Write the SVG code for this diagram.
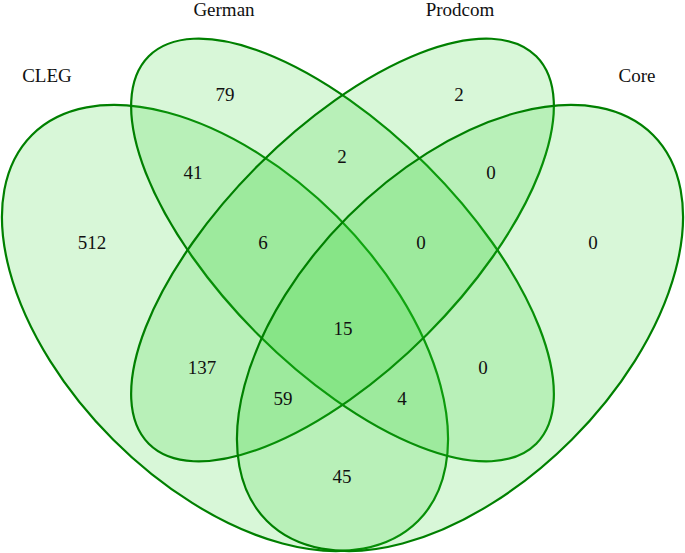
<svg xmlns="http://www.w3.org/2000/svg" width="685" height="553" viewBox="0 0 685 553">
<style>
.set{fill:rgb(40,210,40);fill-opacity:0.18;stroke:#008000;stroke-width:2.2}
.lbl{font-family:"Liberation Serif","Times New Roman",serif;font-size:19px;fill:#111;text-anchor:middle}
.num{font-family:"Liberation Serif","Times New Roman",serif;font-size:19px;fill:#111;text-anchor:middle}
</style>
<rect width="685" height="553" fill="#ffffff"/>
<g id="CLEG">
<ellipse class="set" cx="225" cy="328" rx="273" ry="158" transform="rotate(45 225 328)"/>
<text class="lbl" x="47" y="82">CLEG</text>
</g>
<g id="German">
<ellipse class="set" cx="342.5" cy="250" rx="274" ry="119.5" transform="rotate(45 342.5 250)"/>
<text class="lbl" x="224" y="16">German</text>
</g>
<g id="Prodcom">
<ellipse class="set" cx="342.5" cy="250" rx="274" ry="119.5" transform="rotate(-45 342.5 250)"/>
<text class="lbl" x="460" y="16">Prodcom</text>
</g>
<g id="Core">
<ellipse class="set" cx="460" cy="328" rx="273" ry="158" transform="rotate(-45 460 328)"/>
<text class="lbl" x="637" y="82">Core</text>
</g>
<g id="counts">
<text class="num" x="225" y="101">79</text>
<text class="num" x="459" y="101">2</text>
<text class="num" x="193" y="179">41</text>
<text class="num" x="342" y="163">2</text>
<text class="num" x="491" y="179">0</text>
<text class="num" x="92" y="249">512</text>
<text class="num" x="263" y="249">6</text>
<text class="num" x="421" y="249">0</text>
<text class="num" x="593" y="249">0</text>
<text class="num" x="343" y="335">15</text>
<text class="num" x="202" y="374">137</text>
<text class="num" x="483" y="374">0</text>
<text class="num" x="283" y="405">59</text>
<text class="num" x="402" y="405">4</text>
<text class="num" x="342" y="483">45</text>
</g>
<g id="connectors"/>
</svg>
